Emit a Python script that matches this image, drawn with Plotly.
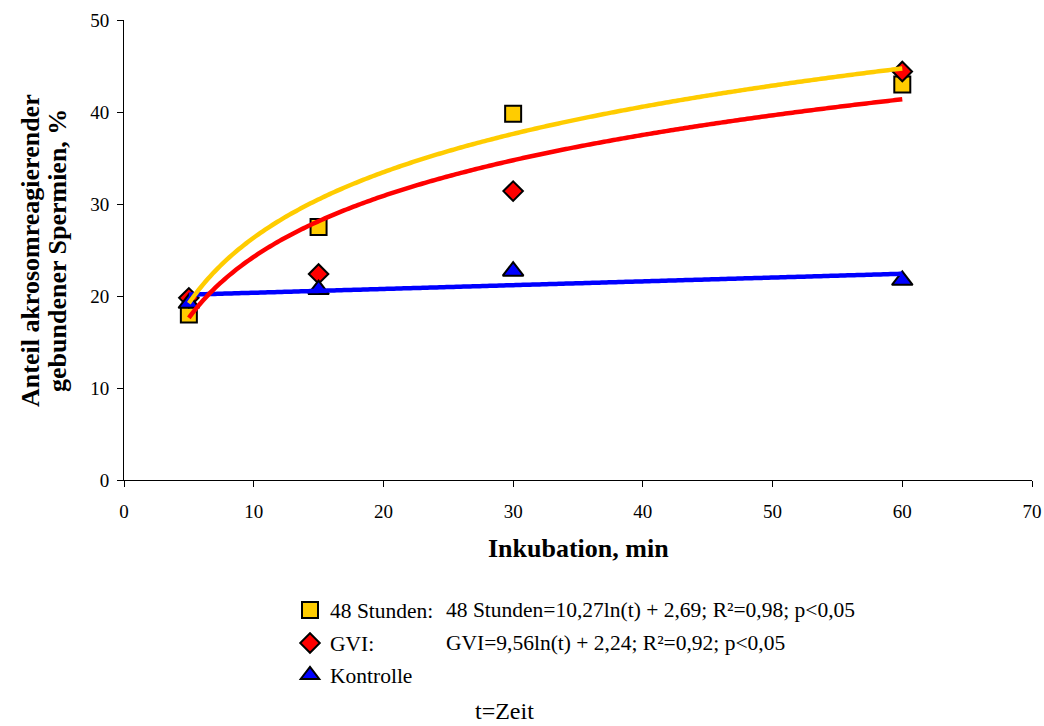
import numpy as np
import plotly.graph_objects as go

# Incubation time (min) and share of acrosome-reacted bound sperm (%)
t_min = [5, 15, 30, 60]
stunden48 = [18.0, 27.5, 39.8, 43.0]
gvi = [19.8, 22.4, 31.4, 44.4]
kontrolle = [19.2, 20.7, 22.7, 21.7]

# Logarithmic trend equations (y = a*ln(t) + b)
fit48 = (10.27, 2.69)
fitgvi = (9.56, 2.24)

x_ticks = [0, 10, 20, 30, 40, 50, 60, 70]
y_ticks = [0, 10, 20, 30, 40, 50]

FONT = "Liberation Serif"
YELLOW = "#FFCC00"
RED = "#FF0000"
BLUE = "#0000FF"

fig = go.Figure()

# data markers
fig.add_trace(go.Scatter(
    x=t_min, y=stunden48, mode="markers", name="48 Stunden:",
    marker=dict(symbol="square", size=16, color=YELLOW,
                line=dict(color="black", width=2)),
    legend="legend"))
fig.add_trace(go.Scatter(
    x=t_min, y=gvi, mode="markers", name="GVI:",
    marker=dict(symbol="diamond", size=15, color=RED,
                line=dict(color="black", width=2)),
    legend="legend2"))
fig.add_trace(go.Scatter(
    x=t_min, y=kontrolle, mode="markers", name="Kontrolle",
    marker=dict(symbol="triangle-up", size=18, color=BLUE,
                line=dict(color="black", width=2)),
    legend="legend3"))

# trend lines
tt = np.linspace(min(t_min), max(t_min), 300)
slope, icpt = np.polyfit(t_min, kontrolle, 1)
trend_line = dict(width=4.5, simplify=False)
fig.add_trace(go.Scatter(x=tt, y=slope * tt + icpt, mode="lines",
                         line=dict(color=BLUE, **trend_line), showlegend=False,
                         hoverinfo="skip"))
fig.add_trace(go.Scatter(x=tt, y=fitgvi[0] * np.log(tt) + fitgvi[1], mode="lines",
                         line=dict(color=RED, **trend_line), showlegend=False,
                         hoverinfo="skip"))
fig.add_trace(go.Scatter(x=tt, y=fit48[0] * np.log(tt) + fit48[1], mode="lines",
                         line=dict(color=YELLOW, **trend_line), showlegend=False,
                         hoverinfo="skip"))

axis_common = dict(
    showline=True, linecolor="black", linewidth=1,
    ticks="outside", ticklen=6, tickcolor="black", tickwidth=1,
    showgrid=False, zeroline=False, automargin=False,
    tickfont=dict(family=FONT, size=19, color="black"),
)

L, R, T, B = 124, 12, 20, 246
W, H = 1044, 726
pw, ph = W - L - R, H - T - B


def px(xp):
    return (xp - L) / pw


def py(yp):
    return (H - B - yp) / ph


legend_font = dict(family=FONT, size=21.5, color="black")
legend_common = dict(font=legend_font, bgcolor="rgba(0,0,0,0)",
                     xanchor="left", yanchor="middle", borderwidth=0)

fig.update_layout(
    width=W, height=H,
    margin=dict(l=L, r=R, t=T, b=B, autoexpand=False),
    font=dict(family=FONT, color="black"),
    paper_bgcolor="white", plot_bgcolor="white",
    xaxis=dict(range=[0, 70], tickvals=x_ticks, ticklabelstandoff=8, **axis_common),
    yaxis=dict(range=[0, 50], tickvals=y_ticks, ticklabelstandoff=4, **axis_common),
    legend=dict(x=px(290), y=py(610), **legend_common),
    legend2=dict(x=px(290), y=py(643), **legend_common),
    legend3=dict(x=px(290), y=py(675), **legend_common),
    showlegend=True,
)

title_font = dict(family=FONT, size=26, color="black")
annotations = [
    dict(text="<b>Inkubation, min</b>", x=0.5, y=py(548), xref="paper", yref="paper",
         showarrow=False, font=title_font, xanchor="center", yanchor="middle"),
    dict(text="<b>Anteil akrosomreagierender</b>",
         x=px(30), y=py(251), xref="paper", yref="paper", textangle=-90,
         showarrow=False, font=title_font, xanchor="center", yanchor="middle"),
    dict(text="<b>gebundener Spermien, %</b>",
         x=px(57), y=py(251), xref="paper", yref="paper", textangle=-90,
         showarrow=False, font=title_font, xanchor="center", yanchor="middle"),
    dict(text="48 Stunden=10,27ln(t) + 2,69; R²=0,98; p<0,05",
         x=px(444), y=py(610), xref="paper", yref="paper", showarrow=False,
         font=legend_font, xanchor="left", yanchor="middle"),
    dict(text="GVI=9,56ln(t) + 2,24; R²=0,92; p<0,05",
         x=px(444), y=py(643), xref="paper", yref="paper", showarrow=False,
         font=legend_font, xanchor="left", yanchor="middle"),
    dict(text="t=Zeit", x=px(504), y=py(711), xref="paper", yref="paper",
         showarrow=False, font=dict(family=FONT, size=24, color="black"),
         xanchor="center", yanchor="middle"),
]
fig.update_layout(annotations=annotations)

fig.write_html("out.html")
